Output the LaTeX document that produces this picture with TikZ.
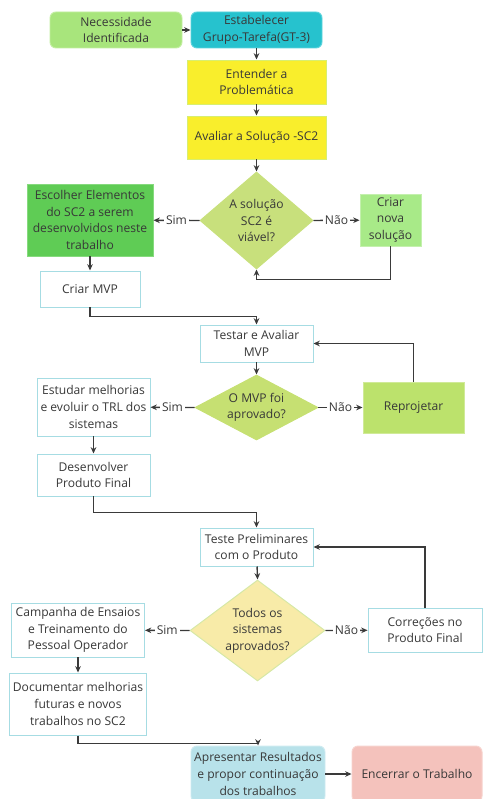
\documentclass[tikz,border=0pt]{standalone}
\usepackage{fontspec}
\setmainfont{Open Sans}
\usetikzlibrary{shapes.geometric,arrows.meta}

\definecolor{txtgray}{HTML}{383838}
\definecolor{linegray}{HTML}{3A3A3A}
\definecolor{edgeteal}{HTML}{A6DCE3}
\definecolor{lgreen}{HTML}{A8E57C}
\definecolor{lgreenedge}{HTML}{C2EEA0}
\definecolor{tealfill}{HTML}{26C2CE}
\definecolor{tealedge}{HTML}{5CD3DC}
\definecolor{yellowfill}{HTML}{F9EE2C}
\definecolor{yellowedge}{HTML}{D8EE70}
\definecolor{dgreen}{HTML}{5FCC55}
\definecolor{dgreenedge}{HTML}{86DA7E}
\definecolor{newgreen}{HTML}{A8EA88}
\definecolor{newgreenedge}{HTML}{C4F0AE}
\definecolor{redogreen}{HTML}{BCE26C}
\definecolor{redogreenedge}{HTML}{D0EA98}
\definecolor{dia1fill}{HTML}{C8E07C}
\definecolor{dia2fill}{HTML}{C6E072}
\definecolor{dia3fill}{HTML}{F8EBA8}
\definecolor{dia3edge}{HTML}{D6E8A6}
\definecolor{endblue}{HTML}{B8E2EA}
\definecolor{endblueedge}{HTML}{CDEAF0}
\definecolor{endpink}{HTML}{F4C2BC}
\definecolor{endpinkedge}{HTML}{F7D3CE}

\newlength{\pxu}
\setlength{\pxu}{0.025cm}

\tikzset{
  txt/.style={text=txtgray, align=center, font=\fontsize{8.6}{11.8}\selectfont},
  stepbox/.style={txt, rectangle, line width=0.7pt, inner sep=0pt},
  whitebox/.style={stepbox, draw=edgeteal, fill=white},
  roundbox/.style={stepbox, rounded corners=0.15cm},
  decision/.style={diamond, line width=0.7pt, inner sep=0pt},
  flow/.style={draw=linegray, line width=1pt, -{Stealth[length=4.5pt,width=4pt]}},
  answer/.style={txt, fill=white, inner sep=1.5pt}
}

\begin{document}
\begin{tikzpicture}[x=\pxu, y=-\pxu]
\useasboundingbox (0,0) rectangle (483,799);

% start
\node[roundbox, fill=lgreen, draw=lgreenedge, minimum width=132*\pxu, minimum height=36*\pxu] (need) at (116,30) {Necessidade\\Identificada};
\node[roundbox, fill=tealfill, draw=tealedge, minimum width=131*\pxu, minimum height=36*\pxu] (group) at (256.5,30) {Estabelecer\\Grupo-Tarefa(GT-3)};
\node[stepbox, fill=yellowfill, draw=yellowedge, minimum width=139*\pxu, minimum height=44*\pxu] (understand) at (256.5,82) {Entender a\\Problemática};
\node[stepbox, fill=yellowfill, draw=yellowedge, minimum width=139*\pxu, minimum height=43*\pxu] (assess) at (256.5,137.5) {Avaliar a Solução -SC2};

% first decision
\node[decision, fill=dia1fill, draw=dia1fill, minimum width=113*\pxu, minimum height=97*\pxu] (viable) at (256.5,220.5) {};
\node[txt] (viable-txt) at (viable) {A solução\\SC2 é\\viável?};
\node[stepbox, fill=dgreen, draw=dgreenedge, minimum width=126*\pxu, minimum height=72*\pxu] (choose) at (90,220) {Escolher Elementos\\do SC2 a serem\\desenvolvidos neste\\trabalho};
\node[stepbox, fill=newgreen, draw=newgreenedge, minimum width=61*\pxu, minimum height=52*\pxu] (newsol) at (390.5,220) {Criar\\nova\\solução};
\node[whitebox, minimum width=100*\pxu, minimum height=36*\pxu] (mvp) at (90,289) {Criar MVP};

% MVP
\node[whitebox, minimum width=113*\pxu, minimum height=37*\pxu] (testmvp) at (256.5,343.5) {Testar e Avaliar\\MVP};
\node[decision, fill=dia2fill, draw=dia2fill, minimum width=123*\pxu, minimum height=65*\pxu] (mvpok) at (256.5,407.5) {};
\node[txt] (mvpok-txt) at (mvpok) {O MVP foi\\aprovado?};
\node[whitebox, minimum width=113*\pxu, minimum height=58*\pxu] (study) at (93.5,407) {Estudar melhorias\\e evoluir o TRL dos\\sistemas};
\node[stepbox, fill=redogreen, draw=redogreenedge, minimum width=101*\pxu, minimum height=51*\pxu] (redesign) at (413.5,407.5) {Reprojetar};
\node[whitebox, minimum width=113*\pxu, minimum height=42*\pxu] (develop) at (93.5,475) {Desenvolver\\Produto Final};

% product
\node[whitebox, minimum width=113*\pxu, minimum height=38*\pxu] (pretest) at (256.5,547) {Teste Preliminares\\com o Produto};
\node[decision, fill=dia3fill, draw=dia3edge, minimum width=135*\pxu, minimum height=101*\pxu] (allok) at (257.5,630.5) {};
\node[txt] (allok-txt) at (allok) {Todos os\\sistemas\\aprovados?};
\node[whitebox, minimum width=133*\pxu, minimum height=54*\pxu] (campaign) at (78,630) {Campanha de Ensaios\\e Treinamento do\\Pessoal Operador};
\node[whitebox, minimum width=114*\pxu, minimum height=44*\pxu] (fixes) at (425,630) {Correções no\\Produto Final};
\node[whitebox, minimum width=137*\pxu, minimum height=62*\pxu] (document) at (78,704) {Documentar melhorias\\futuras e novos\\trabalhos no SC2};

% end
\node[roundbox, fill=endblue, draw=endblueedge, minimum width=134*\pxu, minimum height=56*\pxu] (present) at (258,774) {Apresentar Resultados\\e propor continuação\\dos trabalhos};
\node[roundbox, fill=endpink, draw=endpinkedge, minimum width=130*\pxu, minimum height=56*\pxu] (close) at (417,774) {Encerrar o Trabalho};

% connectors
\draw[flow] (need) -- (group);
\draw[flow] (group) -- (understand);
\draw[flow] (understand) -- (assess);
\draw[flow] (assess) -- (viable.north);
\draw[flow] (viable.west) -- node[answer] {Sim} (choose);
\draw[flow] (viable.east) -- node[answer] {Não} (newsol);
\draw[flow] (newsol.south) -- ++(0,33) -| (viable.south);
\draw[flow] (choose) -- (mvp);
\draw[flow] (mvp.south) -- ++(0,9) -| (testmvp.north);
\draw[flow] (testmvp) -- (mvpok.north);
\draw[flow] (mvpok.west) -- node[answer] {Sim} (study);
\draw[flow] (mvpok.east) -- node[answer] {Não} (redesign);
\draw[flow] (redesign.north) |- (testmvp.east);
\draw[flow] (study) -- (develop);
\draw[flow] (develop.south) -- ++(0,16) -| (pretest.north);
\draw[flow] (pretest) -- (allok.north);
\draw[flow] (allok.west) -- node[answer] {Sim} (campaign);
\draw[flow] (allok.east) -- node[answer] {Não} (fixes);
\draw[flow] (fixes.north) |- (pretest.east);
\draw[flow] (campaign) -- (document);
\draw[flow] (document.south) -- ++(0,8) -| (present.north);
\draw[flow] (present) -- (close);
\end{tikzpicture}
\end{document}
